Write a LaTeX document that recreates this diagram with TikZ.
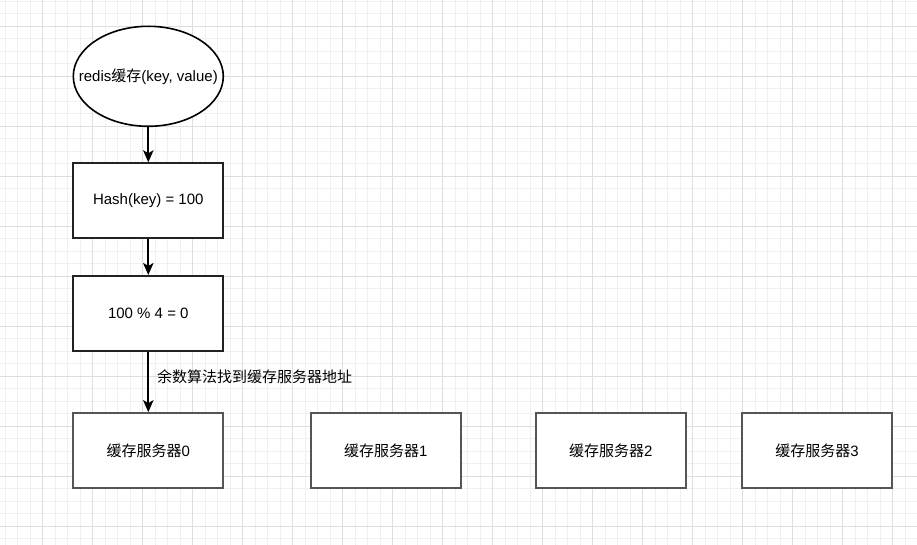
\documentclass[tikz,border=0pt]{standalone}
\usepackage{fontspec}
\setmainfont{Liberation Sans}
\newfontfamily\cjk{Noto Sans CJK SC}
\usetikzlibrary{arrows.meta,shapes.geometric}
\definecolor{gridminor}{HTML}{F0F0F0}
\definecolor{gridmajor}{HTML}{DEDEDE}
\definecolor{edgedark}{HTML}{222222}
\definecolor{edgegray}{HTML}{555555}
\tikzset{
  procbox/.style={draw=edgedark, line width=1.5pt, fill=white, minimum width=112.5pt, minimum height=56.25pt, inner sep=0pt, font=\fontsize{11.25}{13}\selectfont},
  serverbox/.style={procbox, draw=edgegray, line width=1.7pt},
  startell/.style={ellipse, draw=black, line width=1.2pt, fill=white, minimum width=112.5pt, minimum height=75pt, inner sep=0pt},
  celltext/.style={font=\fontsize{11.25}{13}\selectfont, inner sep=0pt},
  flowarrow/.style={draw=black, line width=1.4pt, -{Stealth[length=9pt,width=7.8pt,inset=2.2pt]}},
  edgelabel/.style={font=\fontsize{11.25}{13}\selectfont, inner sep=0pt}
}
\begin{document}
\begin{tikzpicture}[x=0.75pt,y=-0.75pt]
\useasboundingbox (0,0) rectangle (917,545);
\fill[white] (0,0) rectangle (917,545);
% grid
\foreach \i in {0,...,73} {\draw[gridminor, line width=0.6pt] ({5.2+12.5*\i},0) -- ({5.2+12.5*\i},545);}
\foreach \i in {0,...,43} {\draw[gridminor, line width=0.6pt] (0,{1+12.5*\i}) -- (917,{1+12.5*\i});}
\foreach \i in {-1,...,18} {\draw[gridmajor, line width=0.6pt] ({42.7+50*\i},0) -- ({42.7+50*\i},545);}
\foreach \i in {-1,...,10} {\draw[gridmajor, line width=0.6pt] (0,{26+50*\i}) -- (917,{26+50*\i});}
% nodes
\node[startell] (start) at (148.3,76.3) {};
\node[celltext] (starttext) at (start.center) {redis{\cjk 缓存}(key, value)};
\node[procbox] (hash) at (148.3,200.8) {Hash(key) = 100};
\node[procbox] (mod) at (148.3,313.5) {100 \% 4 = 0};
\node[serverbox] (s0) at (148.3,450.8) {{\cjk 缓存服务器}0};
\node[serverbox] (s1) at (385.7,450.8) {{\cjk 缓存服务器}1};
\node[serverbox] (s2) at (610.7,450.8) {{\cjk 缓存服务器}2};
\node[serverbox] (s3) at (817,450.8) {{\cjk 缓存服务器}3};
% connectors
\draw[flowarrow] (start) -- (hash);
\draw[flowarrow] (hash) -- (mod);
\draw[flowarrow] (mod) -- node[edgelabel, anchor=west, xshift=6pt, yshift=3.75pt] (lbl) {\cjk 余数算法找到缓存服务器地址} (s0);
\end{tikzpicture}
\end{document}
